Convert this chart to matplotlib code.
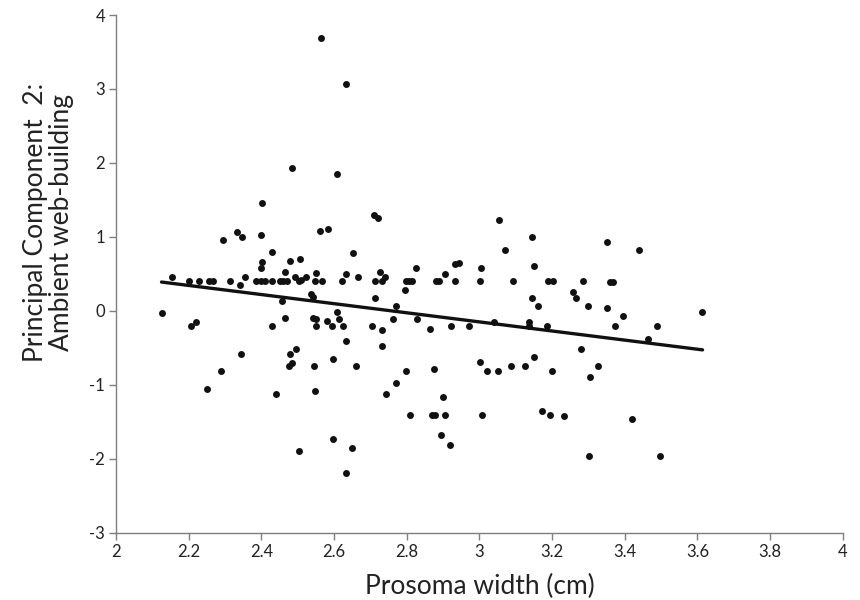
import numpy as np
import matplotlib
matplotlib.use("Agg")
import matplotlib.pyplot as plt

plt.rcParams["font.family"] = ["Lato", "DejaVu Sans"]
plt.rcParams["axes.unicode_minus"] = False

# prosoma width (cm) and PC2 score
width_cm = [
    2.564, 2.634, 2.483, 2.608, 2.402, 2.295, 2.333, 2.346, 2.398, 2.561,
    2.583, 2.429, 2.651, 2.479, 2.505, 2.402, 2.398, 2.153, 2.201, 2.229,
    2.255, 2.267, 2.313, 2.341, 2.355, 2.386, 2.400, 2.409, 2.430, 2.452,
    2.460, 2.469, 2.465, 2.493, 2.503, 2.509, 2.523, 2.551, 2.547, 2.567,
    2.623, 2.634, 2.666, 2.536, 2.542, 2.457, 2.125, 2.205, 2.220, 2.428,
    2.464, 2.541, 2.550, 2.551, 2.580, 2.593, 2.607, 2.613, 2.624, 2.634,
    2.344, 2.479, 2.494, 2.476, 2.484, 2.546, 2.598, 2.661, 2.290, 2.250,
    2.439, 2.548, 2.597, 2.648, 2.503, 2.634, 2.709, 2.720, 3.055, 3.146,
    3.071, 2.826, 2.934, 2.943, 3.004, 3.151, 2.712, 2.727, 2.732, 2.740,
    2.712, 2.769, 2.794, 2.797, 2.806, 2.815, 2.880, 2.888, 2.904, 2.934,
    3.001, 3.093, 3.190, 3.203, 3.146, 3.161, 3.257, 3.267, 3.284, 3.300,
    2.761, 2.828, 2.705, 2.731, 2.863, 2.923, 2.970, 3.041, 3.135, 3.135,
    3.187, 2.733, 2.798, 2.874, 2.771, 2.742, 3.002, 3.022, 3.052, 3.086,
    3.126, 3.151, 3.200, 3.279, 3.305, 3.327, 2.900, 2.809, 2.869, 2.879,
    2.904, 3.008, 3.173, 3.194, 3.233, 2.894, 2.920, 3.302, 3.351, 3.440,
    3.359, 3.368, 3.352, 3.395, 3.372, 3.490, 3.464, 3.612, 3.419, 3.497,
]
pc2 = [
    3.69, 3.07, 1.93, 1.85, 1.455, 0.955, 1.06, 1.00, 1.03, 1.08,
    1.11, 0.79, 0.78, 0.68, 0.70, 0.66, 0.58, 0.46, 0.40, 0.40,
    0.40, 0.40, 0.40, 0.35, 0.46, 0.40, 0.40, 0.40, 0.40, 0.40,
    0.40, 0.40, 0.52, 0.46, 0.405, 0.42, 0.455, 0.51, 0.40, 0.40,
    0.405, 0.50, 0.46, 0.225, 0.185, 0.135, -0.035, -0.20, -0.15, -0.20,
    -0.09, -0.09, -0.11, -0.20, -0.14, -0.20, -0.02, -0.11, -0.20, -0.41,
    -0.58, -0.58, -0.52, -0.74, -0.71, -0.75, -0.65, -0.74, -0.81, -1.06,
    -1.13, -1.08, -1.73, -1.86, -1.90, -2.19, 1.30, 1.26, 1.23, 1.00,
    0.82, 0.58, 0.635, 0.645, 0.58, 0.61, 0.405, 0.52, 0.405, 0.46,
    0.17, 0.07, 0.28, 0.405, 0.405, 0.405, 0.405, 0.405, 0.50, 0.405,
    0.405, 0.40, 0.40, 0.40, 0.17, 0.07, 0.26, 0.175, 0.40, 0.07,
    -0.11, -0.11, -0.20, -0.26, -0.24, -0.20, -0.20, -0.145, -0.15, -0.20,
    -0.20, -0.47, -0.81, -0.79, -0.98, -1.13, -0.69, -0.81, -0.81, -0.75,
    -0.75, -0.63, -0.81, -0.51, -0.90, -0.74, -1.17, -1.41, -1.41, -1.41,
    -1.41, -1.41, -1.36, -1.41, -1.415, -1.68, -1.81, -1.96, 0.93, 0.82,
    0.39, 0.39, 0.035, -0.07, -0.20, -0.20, -0.38, -0.02, -1.46, -1.96,
]

# fitted trend line end points
fit_x = [2.125, 3.614]
fit_y = [0.39, -0.527]

x_ticks = [2, 2.2, 2.4, 2.6, 2.8, 3, 3.2, 3.4, 3.6, 3.8, 4]
x_tick_labels = ["2", "2.2", "2.4", "2.6", "2.8", "3", "3.2", "3.4", "3.6", "3.8", "4"]
y_ticks = [-3, -2, -1, 0, 1, 2, 3, 4]

fig = plt.figure(figsize=(8.6, 6), dpi=100)
ax = fig.add_axes([0.135, 0.112, 0.845, 0.863])

ax.scatter(width_cm, pc2, s=25, color="#111111", linewidths=0, zorder=3)
ax.plot(fit_x, fit_y, color="#111111", linewidth=2.4, solid_capstyle="round", zorder=2)

ax.set_xlim(2, 4)
ax.set_ylim(-3, 4)
ax.set_xticks(x_ticks)
ax.set_xticklabels(x_tick_labels)
ax.set_yticks(y_ticks)

for side in ["top", "right"]:
    ax.spines[side].set_visible(False)
for side in ["left", "bottom"]:
    ax.spines[side].set_color("#7f7f7f")
    ax.spines[side].set_linewidth(1.0)

ax.tick_params(axis="both", direction="out", length=5, width=1.0,
               color="#7f7f7f", labelsize=12, labelcolor="#222222", pad=3)

ax.set_xlabel("Prosoma width (cm)", fontsize=19, color="#222222", labelpad=10)
ax.set_ylabel("Principal Component  2:\nAmbient web-building", fontsize=19,
              color="#222222", linespacing=1.05)
ax.yaxis.set_label_coords(-0.058, 0.60)

fig.savefig("out.png", dpi=100)
